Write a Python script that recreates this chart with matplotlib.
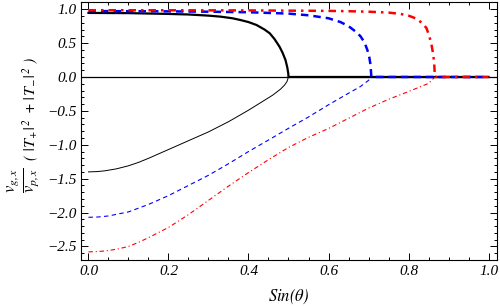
import numpy as np
import matplotlib.pyplot as plt
from matplotlib.ticker import MultipleLocator

plt.rcParams['mathtext.fontset'] = 'stix'
plt.rcParams['font.family'] = ['Liberation Serif', 'DejaVu Serif']
plt.rcParams['font.style'] = 'italic'

# values
# upper (thick) curves, zero after the critical angle
s_blk_up = [0, 0.1, 0.2, 0.25, 0.3, 0.33, 0.36, 0.38, 0.4, 0.42, 0.44, 0.453, 0.465, 0.4775, 0.485, 0.4925, 0.497, 0.4995, 0.5, 1.0]
v_blk_up = [0.945, 0.942, 0.93, 0.922, 0.905, 0.89, 0.866, 0.84, 0.81, 0.767, 0.70, 0.645, 0.56, 0.447, 0.36, 0.25, 0.14, 0.05, 0.0, 0.0]

s_blu_up = [0, 0.1, 0.2, 0.3, 0.4, 0.5, 0.55, 0.6, 0.63, 0.65, 0.67, 0.68, 0.69, 0.697, 0.702, 0.705, 0.7071, 1.0]
v_blu_up = [0.972, 0.97, 0.968, 0.963, 0.955, 0.935, 0.91, 0.866, 0.81, 0.75, 0.66, 0.60, 0.51, 0.40, 0.29, 0.18, 0.0, 0.0]

s_red_up = [0, 0.2, 0.4, 0.6, 0.65, 0.7, 0.75, 0.78, 0.8, 0.82, 0.835, 0.845, 0.852, 0.857, 0.861, 0.864, 0.866, 1.0]
v_red_up = [0.985, 0.984, 0.982, 0.975, 0.97, 0.963, 0.95, 0.93, 0.905, 0.86, 0.79, 0.72, 0.60, 0.49, 0.36, 0.22, 0.0, 0.0]

# lower (thin) curves
s_blk_lo = [0, 0.02, 0.04, 0.07, 0.1, 0.125, 0.15, 0.2, 0.25, 0.3, 0.35, 0.4, 0.43, 0.46, 0.48, 0.49, 0.496, 0.5]
v_blk_lo = [-1.40, -1.396, -1.385, -1.355, -1.31, -1.26, -1.20, -1.07, -0.94, -0.81, -0.66, -0.49, -0.38, -0.27, -0.18, -0.12, -0.07, 0.0]

s_blu_lo = [0, 0.025, 0.05, 0.1, 0.15, 0.2, 0.25, 0.3, 0.35, 0.4, 0.45, 0.5, 0.55, 0.6, 0.65, 0.68, 0.7, 0.7071]
v_blu_lo = [-2.07, -2.065, -2.05, -1.99, -1.88, -1.75, -1.60, -1.45, -1.28, -1.10, -0.93, -0.757, -0.59, -0.41, -0.24, -0.14, -0.05, 0.0]

s_red_lo = [0, 0.025, 0.05, 0.075, 0.1, 0.125, 0.15, 0.2, 0.25, 0.3, 0.35, 0.4, 0.45, 0.5, 0.55, 0.6, 0.65, 0.7, 0.75, 0.8, 0.85, 0.866]
v_red_lo = [-2.58, -2.575, -2.56, -2.535, -2.50, -2.44, -2.37, -2.22, -2.03, -1.82, -1.61, -1.41, -1.22, -1.04, -0.89, -0.76, -0.61, -0.46, -0.33, -0.215, -0.095, 0.0]

fig = plt.figure(figsize=(5, 3.08), dpi=100)
ax = fig.add_axes([0.162, 0.156, 0.832, 0.8375])

ax.axhline(0, color='k', lw=0.9, zorder=1)

ax.plot(s_blk_lo, v_blk_lo, color='k', lw=0.7)
ax.plot(s_blu_lo, v_blu_lo, color='b', lw=0.8, dashes=(4, 3))
ax.plot(s_red_lo, v_red_lo, color='r', lw=0.8, dashes=(4, 2.5, 1, 2.5))

ax.plot(s_blk_up, v_blk_up, color='k', lw=1.6)
ax.plot(s_blu_up, v_blu_up, color='b', lw=1.8, dashes=(3, 2))
ax.plot(s_red_up, v_red_up, color='r', lw=1.8, dashes=(3, 2, 1, 2))

ax.set_xlim(-0.0187, 1.0212)
ax.set_ylim(-2.699, 1.106)

ax.xaxis.set_major_locator(MultipleLocator(0.2))
ax.xaxis.set_minor_locator(MultipleLocator(0.05))
ax.yaxis.set_major_locator(MultipleLocator(0.5))
ax.yaxis.set_minor_locator(MultipleLocator(0.1))
ax.tick_params(which='both', direction='in', top=True, right=True, width=0.7)
ax.tick_params(which='major', length=5)
ax.tick_params(which='minor', length=2.5)
ax.tick_params(labelsize=11)
ax.yaxis.set_major_formatter(plt.FuncFormatter(lambda v, p: ('%.1f' % v).replace('-', '\u2212')))
ax.xaxis.set_major_formatter(plt.FuncFormatter(lambda v, p: '%.1f' % v))

for sp in ax.spines.values():
    sp.set_linewidth(0.8)

ax.set_xlabel(r'$Sin(\theta)$', fontsize=12, labelpad=6)

# y label in two parts: big fraction plus the bracket
fig.text(0.046, 0.415, r'$\frac{v_{g,x}}{v_{p,x}}$', fontsize=17, rotation=90, ha='center', va='center')
fig.text(0.062, 0.645, r'$\left(\ |T_{+}|^{2}\ +|T_{-}|^{2}\ \right)$', fontsize=11.5, rotation=90, ha='center', va='center')

plt.savefig('out.png')
